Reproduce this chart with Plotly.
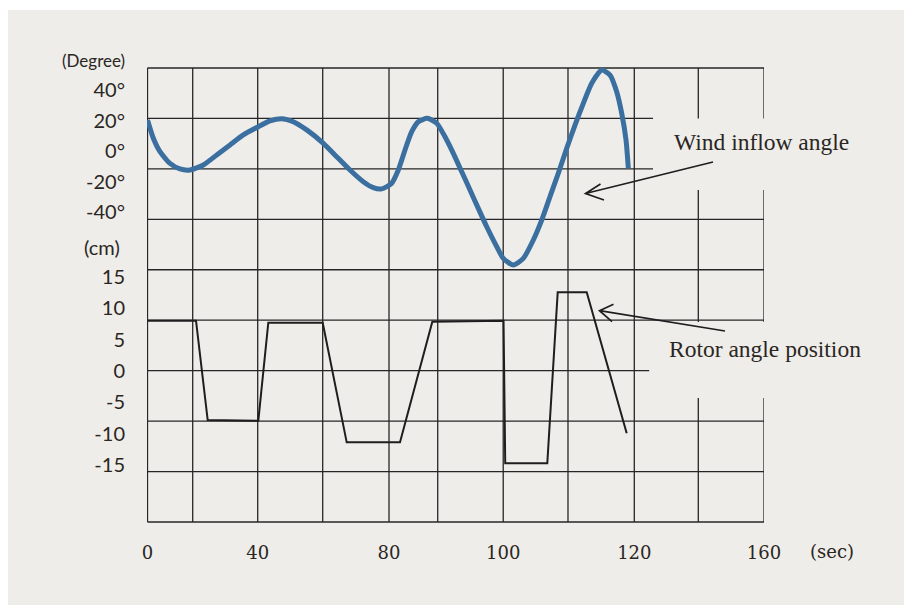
import plotly.graph_objects as go

# Wind inflow angle trace (time axis units, degrees)
wind_t = [0, 1.51, 3.24, 5.84, 8.43, 11.03, 14.48, 17.96, 21.41, 24.86, 28.76,
          31.79, 34.83, 37.84, 41.32, 45.63, 49.10, 52.55, 56.01, 58.60, 60.78,
          63.38, 65.09, 66.83, 68.57, 70.28, 72.62, 75.06, 77.21, 79.37, 81.55,
          83.70, 85.85, 88.04, 90.19, 92.34, 94.94, 97.53, 100.13, 102.31,
          104.46, 106.62, 108.80, 110.95, 113.11, 115.29, 117.88, 120.04,
          121.77, 123.07, 124.19, 124.79]
wind_deg = [20.5, 8.5, -0.3, -8.0, -11.7, -12.4, -9.1, -2.5, 4.1, 10.7, 16.1,
            19.9, 21.4, 19.4, 14.0, 5.2, -3.6, -12.4, -20.1, -24.0, -24.8,
            -21.1, -12.4, 0.8, 12.8, 19.4, 21.6, 18.4, 9.5, -1.4, -13.5,
            -25.5, -37.6, -49.7, -60.6, -70.5, -74.9, -70.5, -58.4, -45.3,
            -29.9, -14.5, 1.9, 17.2, 31.5, 44.7, 53.4, 50.1,
            39.1, 24.9, 7.4, -11.3]

# Rotor angle position trace (time axis units, cm)
rotor_t = [0, 12.59, 15.62, 28.76, 31.35, 45.47, 51.70, 65.53, 73.92, 92.40,
           92.84, 103.76, 106.46, 113.99, 124.37]
rotor_cm = [8.0, 8.0, -7.81, -7.92, 7.69, 7.69, -11.37, -11.37, 7.85, 8.0,
            -14.71, -14.71, 12.53, 12.53, -9.93]

# Axis labels
x_tick_vals = [0, 28.60, 62.68, 92.32, 126.34, 160]
x_tick_text = ["0", "40", "80", "100", "120", "160"]
deg_tick_vals = [40, 20, 0, -20, -40]
deg_tick_text = ["40°", "20°", "0°", "-20°", "-40°"]
cm_tick_vals = [15, 10, 5, 0, -5, -10, -15]
cm_tick_text = ["15", "10", "5", "0", "-5", "-10", "-15"]

# ---- styling / layout constants ----
W, H = 904, 605
M_L, M_R, M_T, M_B = 147, 140, 60, 83
PLOT_W = W - M_L - M_R
PLOT_H = H - M_T - M_B

PAPER = "#efedea"
INK = "#2a2622"
GRID = "#262626"
BLUE = "#3a6fa0"
PEN = "#1e1e1e"


def to_paper(px, py):
    """Page pixel position -> paper fraction (for decorations only)."""
    return (px - M_L) / PLOT_W, (H - M_B - py) / PLOT_H


GRID_X = [0, 11.73, 28.60, 45.47, 62.68, 75.32, 92.32, 109.13, 126.34, 142.95, 160]
GRID_TOP = 0.9827
N_ROWS = 9
rows = [k * GRID_TOP / N_ROWS for k in range(N_ROWS + 1)]

shapes = []
# page edge strips
shapes.append(dict(type="rect", xref="paper", yref="paper", x0=-0.25, x1=1.25,
                   y0=1.108, y1=1.15, fillcolor="white", line_width=0, layer="below"))
shapes.append(dict(type="rect", xref="paper", yref="paper", x0=-0.25, x1=-0.2253,
                   y0=-0.2, y1=1.15, fillcolor="white", line_width=0, layer="below"))

# vertical grid lines (right two broken around the labels)
for gx in GRID_X:
    if gx > 140:
        segs = [(0, 0.2684), (0.4329, 0.7186), (rows[8], GRID_TOP)]
    else:
        segs = [(0, GRID_TOP)]
    for y0, y1 in segs:
        shapes.append(dict(type="line", xref="x", yref="paper", x0=gx, x1=gx,
                           y0=y0, y1=y1, line=dict(color=GRID, width=1.3),
                           layer="below"))

# horizontal grid lines
short_end = {7: 131.2, 8: 131.2, 3: 130.2}
for k, gy in enumerate(rows):
    shapes.append(dict(type="line", xref="x", yref="paper", x0=0,
                       x1=short_end.get(k, 160), y0=gy, y1=gy,
                       line=dict(color=GRID, width=1.3), layer="below"))

# hand-drawn pointer arrows: shaft plus open chevron head
pointers = [
    dict(tail=(713, 162), tip=(585.5, 193.5), arms=[(15, -9.5), (18.5, 6.5)]),
    dict(tail=(725, 331), tip=(599.5, 310.7), arms=[(14, -6.5), (12.5, 11)]),
]
for p in pointers:
    tx, ty = to_paper(*p["tip"])
    sx, sy = to_paper(*p["tail"])
    a1 = to_paper(p["tip"][0] + p["arms"][0][0], p["tip"][1] + p["arms"][0][1])
    a2 = to_paper(p["tip"][0] + p["arms"][1][0], p["tip"][1] + p["arms"][1][1])
    path = (f"M{sx},{sy} L{tx},{ty} M{a1[0]},{a1[1]} L{tx},{ty} L{a2[0]},{a2[1]}")
    shapes.append(dict(type="path", xref="paper", yref="paper", path=path,
                       line=dict(color=PEN, width=1.7), layer="above"))

fig = go.Figure()
fig.add_trace(go.Scatter(x=wind_t, y=wind_deg, mode="lines", yaxis="y",
                         line=dict(color=BLUE, width=5, shape="spline", smoothing=0.6),
                         showlegend=False, hoverinfo="skip"))
fig.add_trace(go.Scatter(x=rotor_t, y=rotor_cm, mode="lines", yaxis="y2",
                         line=dict(color=PEN, width=2),
                         showlegend=False, hoverinfo="skip"))

annotations = [
    dict(text="(Degree)", xref="paper", yref="paper", x=-0.032, y=0.998,
         xanchor="right", yanchor="middle", showarrow=False,
         font=dict(family="Lato", size=17, color=INK)),
    dict(text="(cm)", xref="paper", yref="paper", x=-0.040, y=0.596,
         xanchor="right", yanchor="middle", showarrow=False,
         font=dict(family="Lato", size=20, color=INK)),
    dict(text="(sec)", xref="paper", yref="paper", x=1.0713, y=-0.0628,
         xanchor="left", yanchor="middle", showarrow=False,
         font=dict(family="DejaVu Serif", size=18, color=INK)),
    dict(text="Wind inflow angle", xref="paper", yref="paper", x=0.8504, y=0.8232,
         xanchor="left", yanchor="middle", showarrow=False,
         font=dict(family="Liberation Serif", size=23.5, color=INK)),
    dict(text="Rotor angle position", xref="paper", yref="paper", x=0.8423, y=0.3738,
         xanchor="left", yanchor="middle", showarrow=False,
         font=dict(family="Liberation Serif", size=23.5, color=INK)),
]

fig.update_layout(
    width=W, height=H,
    margin=dict(l=M_L, r=M_R, t=M_T, b=M_B),
    paper_bgcolor=PAPER, plot_bgcolor="rgba(0,0,0,0)",
    shapes=shapes, annotations=annotations, showlegend=False,
    xaxis=dict(range=[-0.13, 160], showgrid=False, zeroline=False, showline=False,
               tickvals=x_tick_vals, ticktext=x_tick_text, ticks="outside",
               ticklen=14, tickcolor="rgba(0,0,0,0)",
               tickfont=dict(family="DejaVu Serif", size=18, color=INK)),
    yaxis=dict(range=[-243.95, 60.0], showgrid=False, zeroline=False, showline=False,
               tickvals=deg_tick_vals, ticktext=deg_tick_text, ticks="outside",
               ticklen=17, tickcolor="rgba(0,0,0,0)",
               tickfont=dict(family="Lato", size=20, color=INK)),
    yaxis2=dict(range=[-24.06, 49.54], overlaying="y", side="left",
                showgrid=False, zeroline=False, showline=False,
                tickvals=cm_tick_vals, ticktext=cm_tick_text, ticks="outside",
                ticklen=17, tickcolor="rgba(0,0,0,0)",
                tickfont=dict(family="Lato", size=20, color=INK)),
)

fig.write_html("out.html")
